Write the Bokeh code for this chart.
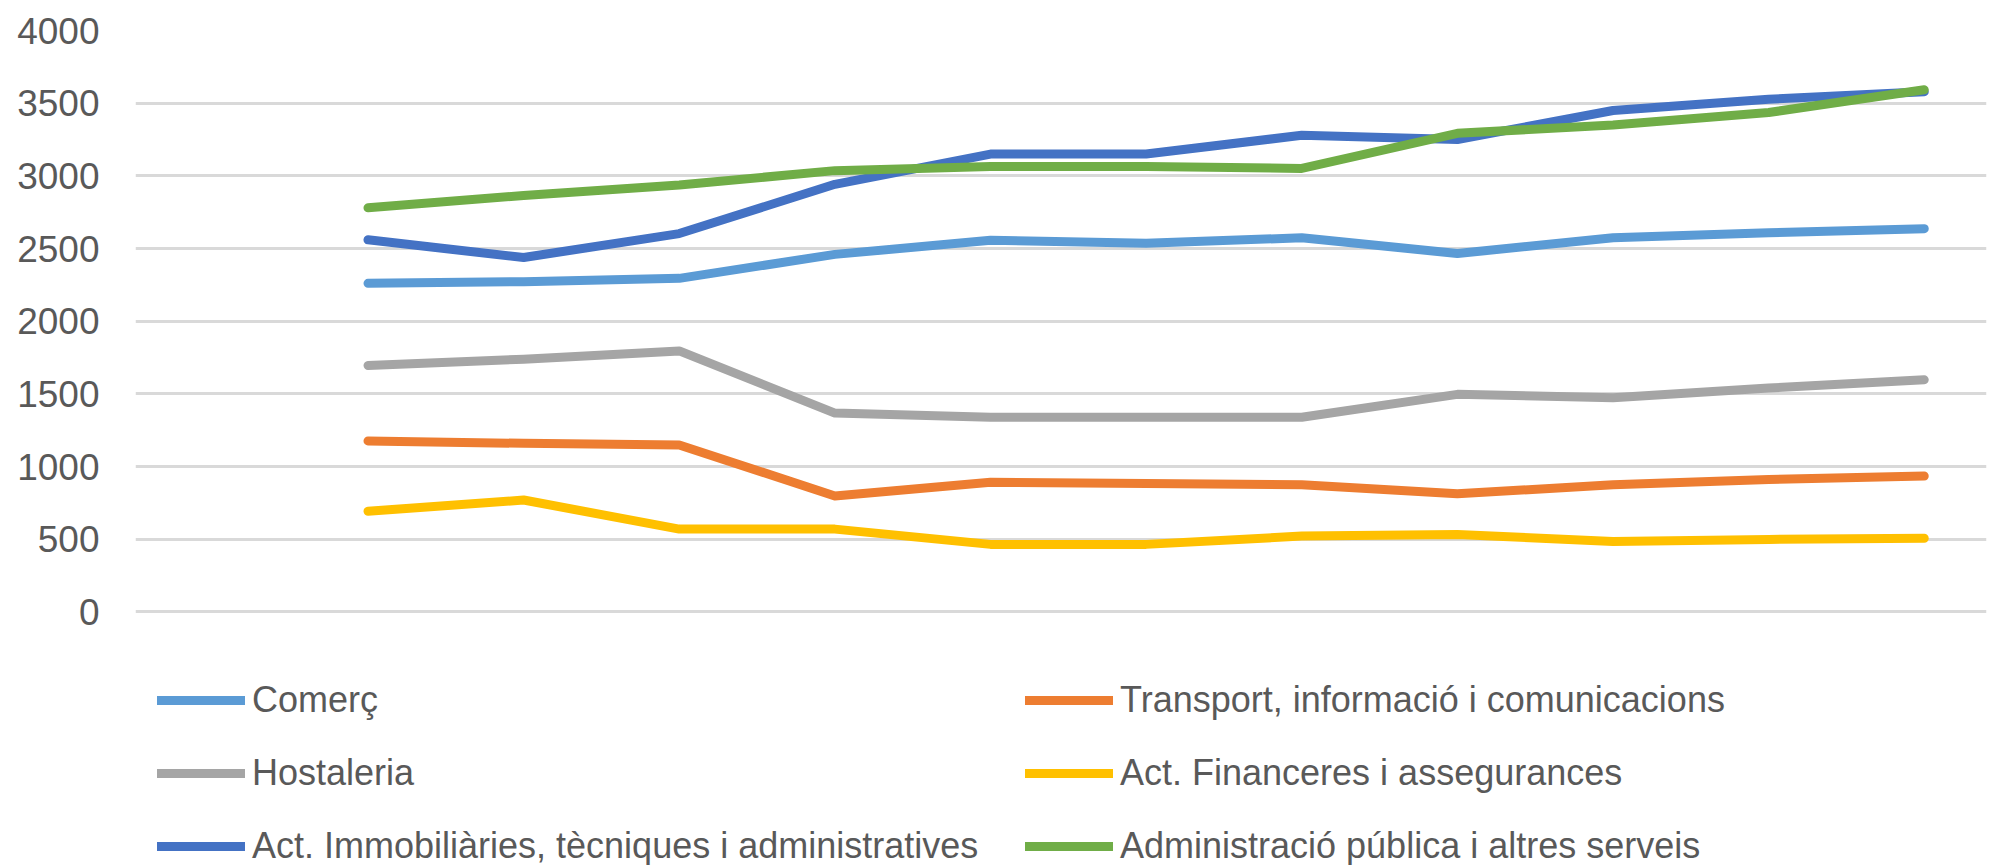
from bokeh.plotting import figure
from bokeh.models import Range1d, FixedTicker, Legend, LegendItem
from bokeh.embed import file_html
from bokeh.resources import INLINE

# ---- data ----
periods = [1, 2, 3, 4, 5, 6, 7, 8, 9, 10, 11]
comerc = [2261, 2272, 2295, 2460, 2557, 2537, 2574, 2466, 2574, 2609, 2637]
transport = [1177, 1160, 1149, 798, 892, 884, 875, 813, 875, 912, 935]
hostaleria = [1696, 1739, 1796, 1368, 1340, 1340, 1340, 1497, 1474, 1540, 1597]
financeres = [693, 770, 570, 570, 465, 465, 522, 533, 485, 499, 507]
immobiliaries = [2560, 2438, 2603, 2942, 3150, 3150, 3279, 3250, 3450, 3527, 3578]
administracio = [2780, 2865, 2937, 3036, 3065, 3065, 3051, 3293, 3350, 3436, 3592]

series_names = [
    "Comerç",
    "Transport, informació i comunicacions",
    "Hostaleria",
    "Act. Financeres i assegurances",
    "Act. Immobiliàries, tècniques i administratives",
    "Administració pública i altres serveis",
]
series_values = [comerc, transport, hostaleria, financeres, immobiliaries, administracio]
series_colors = ["#5B9BD5", "#ED7D31", "#A5A5A5", "#FFC000", "#4472C4", "#70AD47"]
y_ticks = [0, 500, 1000, 1500, 2000, 2500, 3000, 3500, 4000]

FONT = "Liberation Sans, Arial, sans-serif"
TEXT_COLOR = "#595959"

# the frame reaches the bottom of the figure so that the legend sits inside it;
# the extra room below 0 holds the legend (no ticks/grid there)
p = figure(
    width=1990, height=865,
    output_backend="svg", toolbar_location=None,
    x_axis_location=None,
    x_range=Range1d(-0.494, 11.40), y_range=Range1d(-1744, 4000),
    min_border_left=135, min_border_right=4, min_border_top=30, min_border_bottom=0,
)
p.outline_line_color = None
p.background_fill_color = "white"
p.border_fill_color = "white"
p.xgrid.visible = False

yax = p.yaxis[0]
yax.ticker = FixedTicker(ticks=y_ticks)
yax.axis_line_color = None
yax.major_tick_line_color = None
yax.minor_tick_line_color = None
yax.major_tick_out = 0
yax.major_tick_in = 0
yax.major_label_standoff = 36
yax.major_label_text_font = FONT
yax.major_label_text_font_size = "37px"
yax.major_label_text_color = TEXT_COLOR

p.ygrid.ticker = FixedTicker(ticks=y_ticks)
p.ygrid.grid_line_color = "#D9D9D9"
p.ygrid.grid_line_width = 3

items = []
for name, vals, col in zip(series_names, series_values, series_colors):
    r = p.line(periods, vals, line_color=col, line_width=9,
               line_cap="round", line_join="round")
    items.append(LegendItem(label=name, renderers=[r]))

legend = Legend(
    items=items,
    orientation="horizontal",
    ncols=2,
    location=(22, -2),
    padding=0,
    margin=0,
    spacing=31,
    glyph_width=88,
    glyph_height=36,
    label_height=36,
    label_width=742,
    label_standoff=7,
    label_text_font=FONT,
    label_text_font_size="36px",
    label_text_color=TEXT_COLOR,
    border_line_color=None,
    background_fill_alpha=0,
)
p.add_layout(legend, "center")

open("out.html", "w").write(file_html(p, INLINE))
